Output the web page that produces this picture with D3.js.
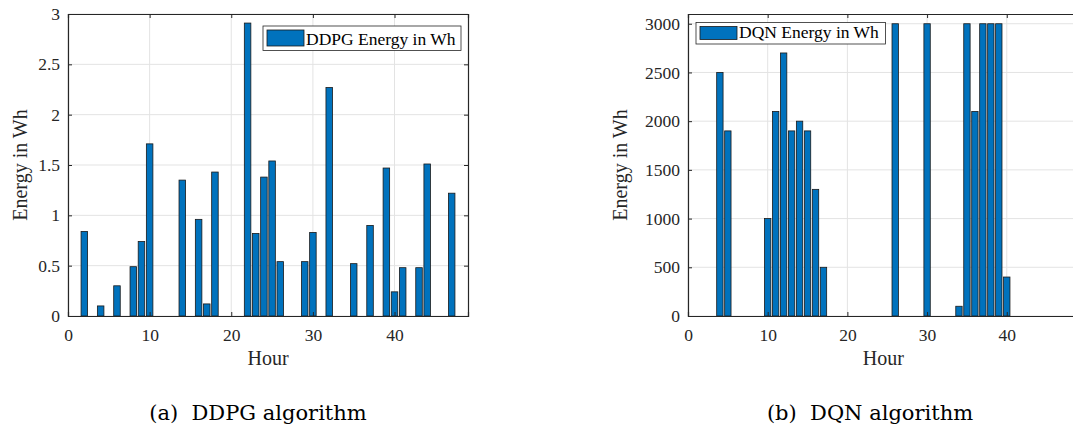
<!DOCTYPE html>
<html>
<head>
<meta charset="utf-8">
<script src="https://cdn.jsdelivr.net/npm/d3@7"></script>
<style>
  body { margin: 0; background: #fff; }
  svg { display: block; }
</style>
</head>
<body>
<div id="chart"></div>
<script>
// Hours 1..48
var hours = d3.range(1, 49);

// DDPG energy per hour (Wh)
var ddpgEnergy = [0, 0.84, 0, 0.10, 0, 0.30, 0, 0.49, 0.74, 1.71,
                  0, 0, 0, 1.35, 0, 0.96, 0.12, 1.43, 0, 0,
                  0, 2.91, 0.82, 1.38, 1.54, 0.54, 0, 0, 0.54, 0.83,
                  0, 2.27, 0, 0, 0.52, 0, 0.90, 0, 1.47, 0.24,
                  0.48, 0, 0.48, 1.51, 0, 0, 1.22, 0];

// DQN energy per hour (Wh)
var dqnEnergy = [0, 0, 0, 2500, 1900, 0, 0, 0, 0, 1000,
                 2100, 2700, 1900, 2000, 1900, 1300, 500, 0, 0, 0,
                 0, 0, 0, 0, 0, 3000, 0, 0, 0, 3000,
                 0, 0, 0, 100, 3000, 2100, 3000, 3000, 3000, 400,
                 0, 0, 0, 0, 0, 0, 0, 0];

var xTicks = [0, 10, 20, 30, 40];
var ddpgTicks = [0, 0.5, 1, 1.5, 2, 2.5, 3];
var dqnTicks = [0, 500, 1000, 1500, 2000, 2500, 3000];

var W = 1073, H = 428;
var barColor = "#0072BD";
var axisColor = "#262626";
var serif = "'Liberation Serif', 'Times New Roman', serif";

var svg = d3.select("#chart").append("svg")
    .attr("width", W)
    .attr("height", H);

svg.append("rect").attr("width", W).attr("height", H).attr("fill", "#fff");

function drawPanel(opt) {
    var x = d3.scaleLinear().domain([0, 49]).range([opt.left, opt.right]);
    var y = d3.scaleLinear().domain([0, opt.yMax]).range([316, 14]);
    var g = svg.append("g");

    // grid
    g.selectAll(".gx").data(xTicks).enter().append("line")
        .attr("x1", function(d) { return x(d); })
        .attr("x2", function(d) { return x(d); })
        .attr("y1", y(0)).attr("y2", y(opt.yMax))
        .attr("stroke", "#e3e3e3").attr("stroke-width", 1);
    g.selectAll(".gy").data(opt.yTicks).enter().append("line")
        .attr("x1", opt.left).attr("x2", opt.right)
        .attr("y1", function(d) { return y(d); })
        .attr("y2", function(d) { return y(d); })
        .attr("stroke", "#e3e3e3").attr("stroke-width", 1);

    // bars
    var bw = (x(1) - x(0)) * 0.8;
    g.selectAll(".bar").data(opt.values).enter().append("rect")
        .attr("x", function(d, i) { return x(hours[i]) - bw / 2; })
        .attr("y", function(d) { return y(d); })
        .attr("width", bw)
        .attr("height", function(d) { return y(0) - y(d); })
        .attr("fill", barColor)
        .attr("stroke", "#1a1a1a")
        .attr("stroke-width", 0.8);

    // axes (ticks pointing inward like matlab)
    var xAxis = d3.axisBottom(x).tickValues(xTicks).tickSize(-4).tickPadding(12.5);
    var gx = g.append("g").attr("transform", "translate(0,316)").call(xAxis);
    var xTop = d3.axisTop(x).tickValues(xTicks).tickSize(-4).tickFormat("");
    var gxt = g.append("g").attr("transform", "translate(0,14)").call(xTop);

    var yAxis = d3.axisLeft(y).tickValues(opt.yTicks).tickSize(-4).tickPadding(8)
        .tickFormat(function(d) { return String(d); });
    var gy = g.append("g").attr("transform", "translate(" + opt.left + ",0)").call(yAxis);
    var yRight = d3.axisRight(y).tickValues(opt.yTicks).tickSize(-4).tickFormat("");
    var gyr = g.append("g").attr("transform", "translate(" + opt.right + ",0)").call(yRight);

    [gx, gxt, gy, gyr].forEach(function(a) {
        a.select(".domain").attr("stroke", axisColor).attr("stroke-width", 1.2);
        a.selectAll(".tick line").attr("stroke", axisColor);
        a.selectAll("text")
            .attr("font-family", serif)
            .attr("font-size", "17.5px")
            .attr("fill", axisColor);
    });

    // axis labels
    g.append("text")
        .attr("x", (opt.left + opt.right) / 2)
        .attr("y", 365)
        .attr("text-anchor", "middle")
        .attr("font-family", serif)
        .attr("font-size", "20px")
        .attr("fill", axisColor)
        .text("Hour");
    g.append("text")
        .attr("transform", "translate(" + opt.yLabelX + ",165) rotate(-90)")
        .attr("text-anchor", "middle")
        .attr("font-family", serif)
        .attr("font-size", "20px")
        .attr("fill", axisColor)
        .text("Energy in Wh");

    // legend
    var lg = g.append("g");
    lg.append("rect")
        .attr("x", opt.legend[0]).attr("y", opt.legend[1])
        .attr("width", opt.legend[2]).attr("height", opt.legend[3])
        .attr("fill", "#fff").attr("stroke", axisColor).attr("stroke-width", 0.8);
    lg.append("rect")
        .attr("x", opt.legend[0] + 4).attr("y", opt.legend[1] + 4)
        .attr("width", 37).attr("height", opt.legend[3] - 8.5)
        .attr("fill", barColor).attr("stroke", "#1a1a1a").attr("stroke-width", 0.8);
    lg.append("text")
        .attr("x", opt.legend[0] + 43)
        .attr("y", opt.legend[1] + opt.legend[3] - 6)
        .attr("font-family", serif)
        .attr("font-size", "17.5px")
        .attr("fill", "#000")
        .text(opt.name);

    // caption
    svg.append("text")
        .attr("x", opt.captionX)
        .attr("y", 420)
        .attr("text-anchor", "middle")
        .attr("font-family", "'DejaVu Serif', serif")
        .attr("font-size", "21px")
        .attr("fill", "#000")
        .attr("xml:space", "preserve")
        .text(opt.caption);
}

drawPanel({
    left: 68, right: 468, yMax: 3, yTicks: ddpgTicks, values: ddpgEnergy,
    yLabelX: 27, legend: [263, 26, 198, 24.5], name: "DDPG Energy in Wh",
    caption: "(a)  DDPG algorithm", captionX: 258
});

drawPanel({
    left: 688, right: 1078.5, yMax: 3100, yTicks: dqnTicks, values: dqnEnergy,
    yLabelX: 627, legend: [696, 22.5, 189.5, 21.5], name: "DQN Energy in Wh",
    caption: "(b)  DQN algorithm", captionX: 870
});
</script>
</body>
</html>
